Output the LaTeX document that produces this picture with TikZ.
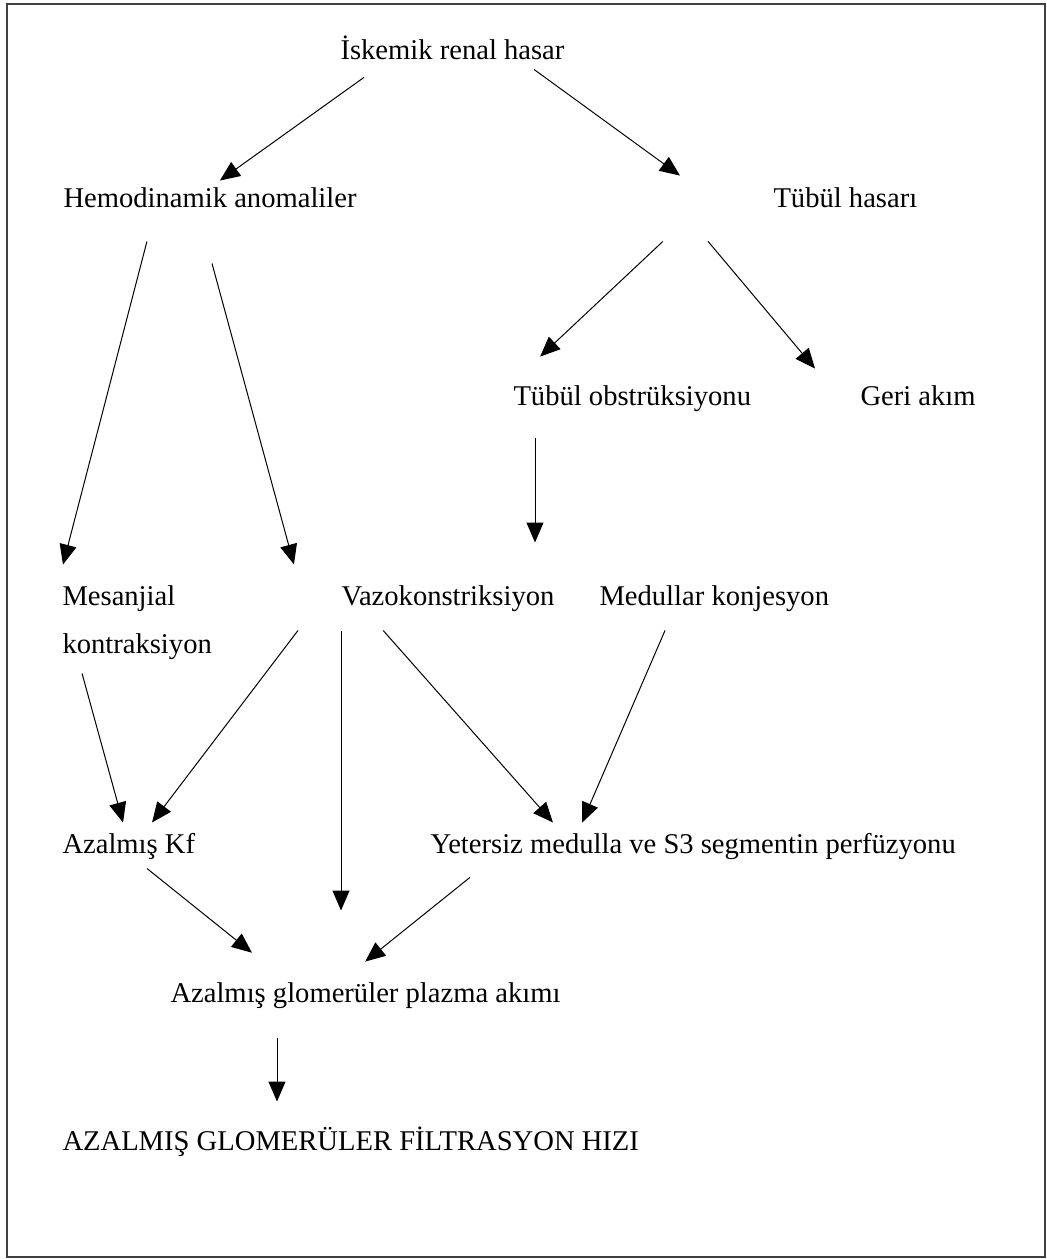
\documentclass[tikz,border=0pt]{standalone}
\usepackage{fontspec}
\setmainfont{Liberation Serif}
\usetikzlibrary{arrows.meta}

\tikzset{every picture/.style={line width=0.5pt}}
\tikzset{
  txt/.style={anchor=base west, inner sep=0pt, text height=10pt, text depth=3pt, font=\fontsize{14.3}{17}\selectfont},
  arr/.style={-{Triangle[length=10pt,width=8.5pt]}}
}

\begin{document}
\begin{tikzpicture}[x=0.5pt,y=0.5pt,yscale=-1,xscale=1]
\useasboundingbox (0,0) rectangle (1047,1259);
%Shape: Rectangle
\draw [line width=1pt, color=black!75] (7,4) rectangle (1045,1257);

% Text Node
\node [txt] (isk) at (340,59) {İskemik renal hasar};
% Text Node
\node [txt] (hemo) at (63,207) {Hemodinamik anomaliler};
% Text Node
\node [txt] (tubh) at (773,207) {Tübül hasarı};
% Text Node
\node [txt] (tubo) at (513,405) {Tübül obstrüksiyonu};
% Text Node
\node [txt] (geri) at (860,405) {Geri akım};
% Text Node
\node [txt] (mes) at (62,605) {Mesanjial};
\node [txt] (kon) at (62,653) {kontraksiyon};
% Text Node
\node [txt] (vazo) at (341,605) {Vazokonstriksiyon};
% Text Node
\node [txt] (med) at (599,605) {Medullar konjesyon};
% Text Node
\node [txt] (kf) at (62,853) {Azalmış Kf};
% Text Node
\node [txt] (yet) at (430,853) {Yetersiz medulla ve S3 segmentin perfüzyonu};
% Text Node
\node [txt] (gpa) at (170,1002) {Azalmış glomerüler plazma akımı};
% Text Node
\node [txt] (gfh) at (62,1150) {AZALMIŞ GLOMERÜLER FİLTRASYON HIZI};

%Straight Lines
\draw [arr, shorten <=10.2pt, shorten >=5.1pt] ([xshift=20.3pt]isk.south west) -- ([xshift=74.3pt]hemo.north west);
\draw [arr, shorten <=3.4pt, shorten >=9.3pt] ([xshift=94.3pt]isk.south west) -- ([xshift=-39pt]tubh.north west);
%Straight Lines
\draw [arr, shorten <=14.5pt, shorten >=10.3pt] ([xshift=45.6pt]hemo.south west) -- ([xshift=-2.1pt]mes.north west);
\draw [arr, shorten <=25.9pt, shorten >=10.4pt] ([xshift=67.7pt]hemo.south west) -- ([xshift=-20.8pt]vazo.north west);
%Straight Lines
\draw [arr, shorten <=20.4pt, shorten >=20.4pt] ([xshift=-40.2pt]tubh.south west) -- ([xshift=-1.3pt]tubo.north west);
\draw [arr, shorten <=18.2pt, shorten >=10.4pt] ([xshift=-44.2pt]tubh.south west) -- ([xshift=-15.8pt]geri.north west);
\draw [arr, shorten <=13pt, shorten >=21pt] ([xshift=11pt]tubo.south west) -- ([xshift=97pt]vazo.north west);
%Straight Lines
\draw [arr, shorten <=7.3pt, shorten >=5.2pt] ([xshift=8.1pt]kon.south west) -- ([xshift=31.9pt]kf.north west);
\draw [arr, shorten <=11.9pt, shorten >=6.3pt] ([xshift=-14.3pt]vazo.south west) -- ([xshift=41.2pt]kf.north west);
\draw [arr, shorten <=9.5pt, shorten >=35.5pt] (vazo.south west) -- ([xshift=85.5pt]gpa.north west);
\draw [arr, shorten <=12.7pt, shorten >=6.7pt] ([xshift=12.7pt]vazo.south west) -- ([xshift=65.9pt]yet.north west);
\draw [arr, shorten <=10.3pt, shorten >=5.4pt] ([xshift=37.1pt]med.south west) -- ([xshift=73.9pt]yet.north west);
%Straight Lines
\draw [arr, shorten <=7.2pt, shorten >=23pt] ([xshift=36.9pt]kf.south west) -- ([xshift=58.9pt]gpa.north west);
\draw [arr, shorten <=14.3pt, shorten >=15.9pt] ([xshift=31.1pt]yet.south west) -- ([xshift=85.2pt]gpa.north west);
\draw [arr, shorten <=14.5pt, shorten >=14pt] ([xshift=53.5pt]gpa.south west) -- ([xshift=107.5pt]gfh.north west);
\end{tikzpicture}
\end{document}
